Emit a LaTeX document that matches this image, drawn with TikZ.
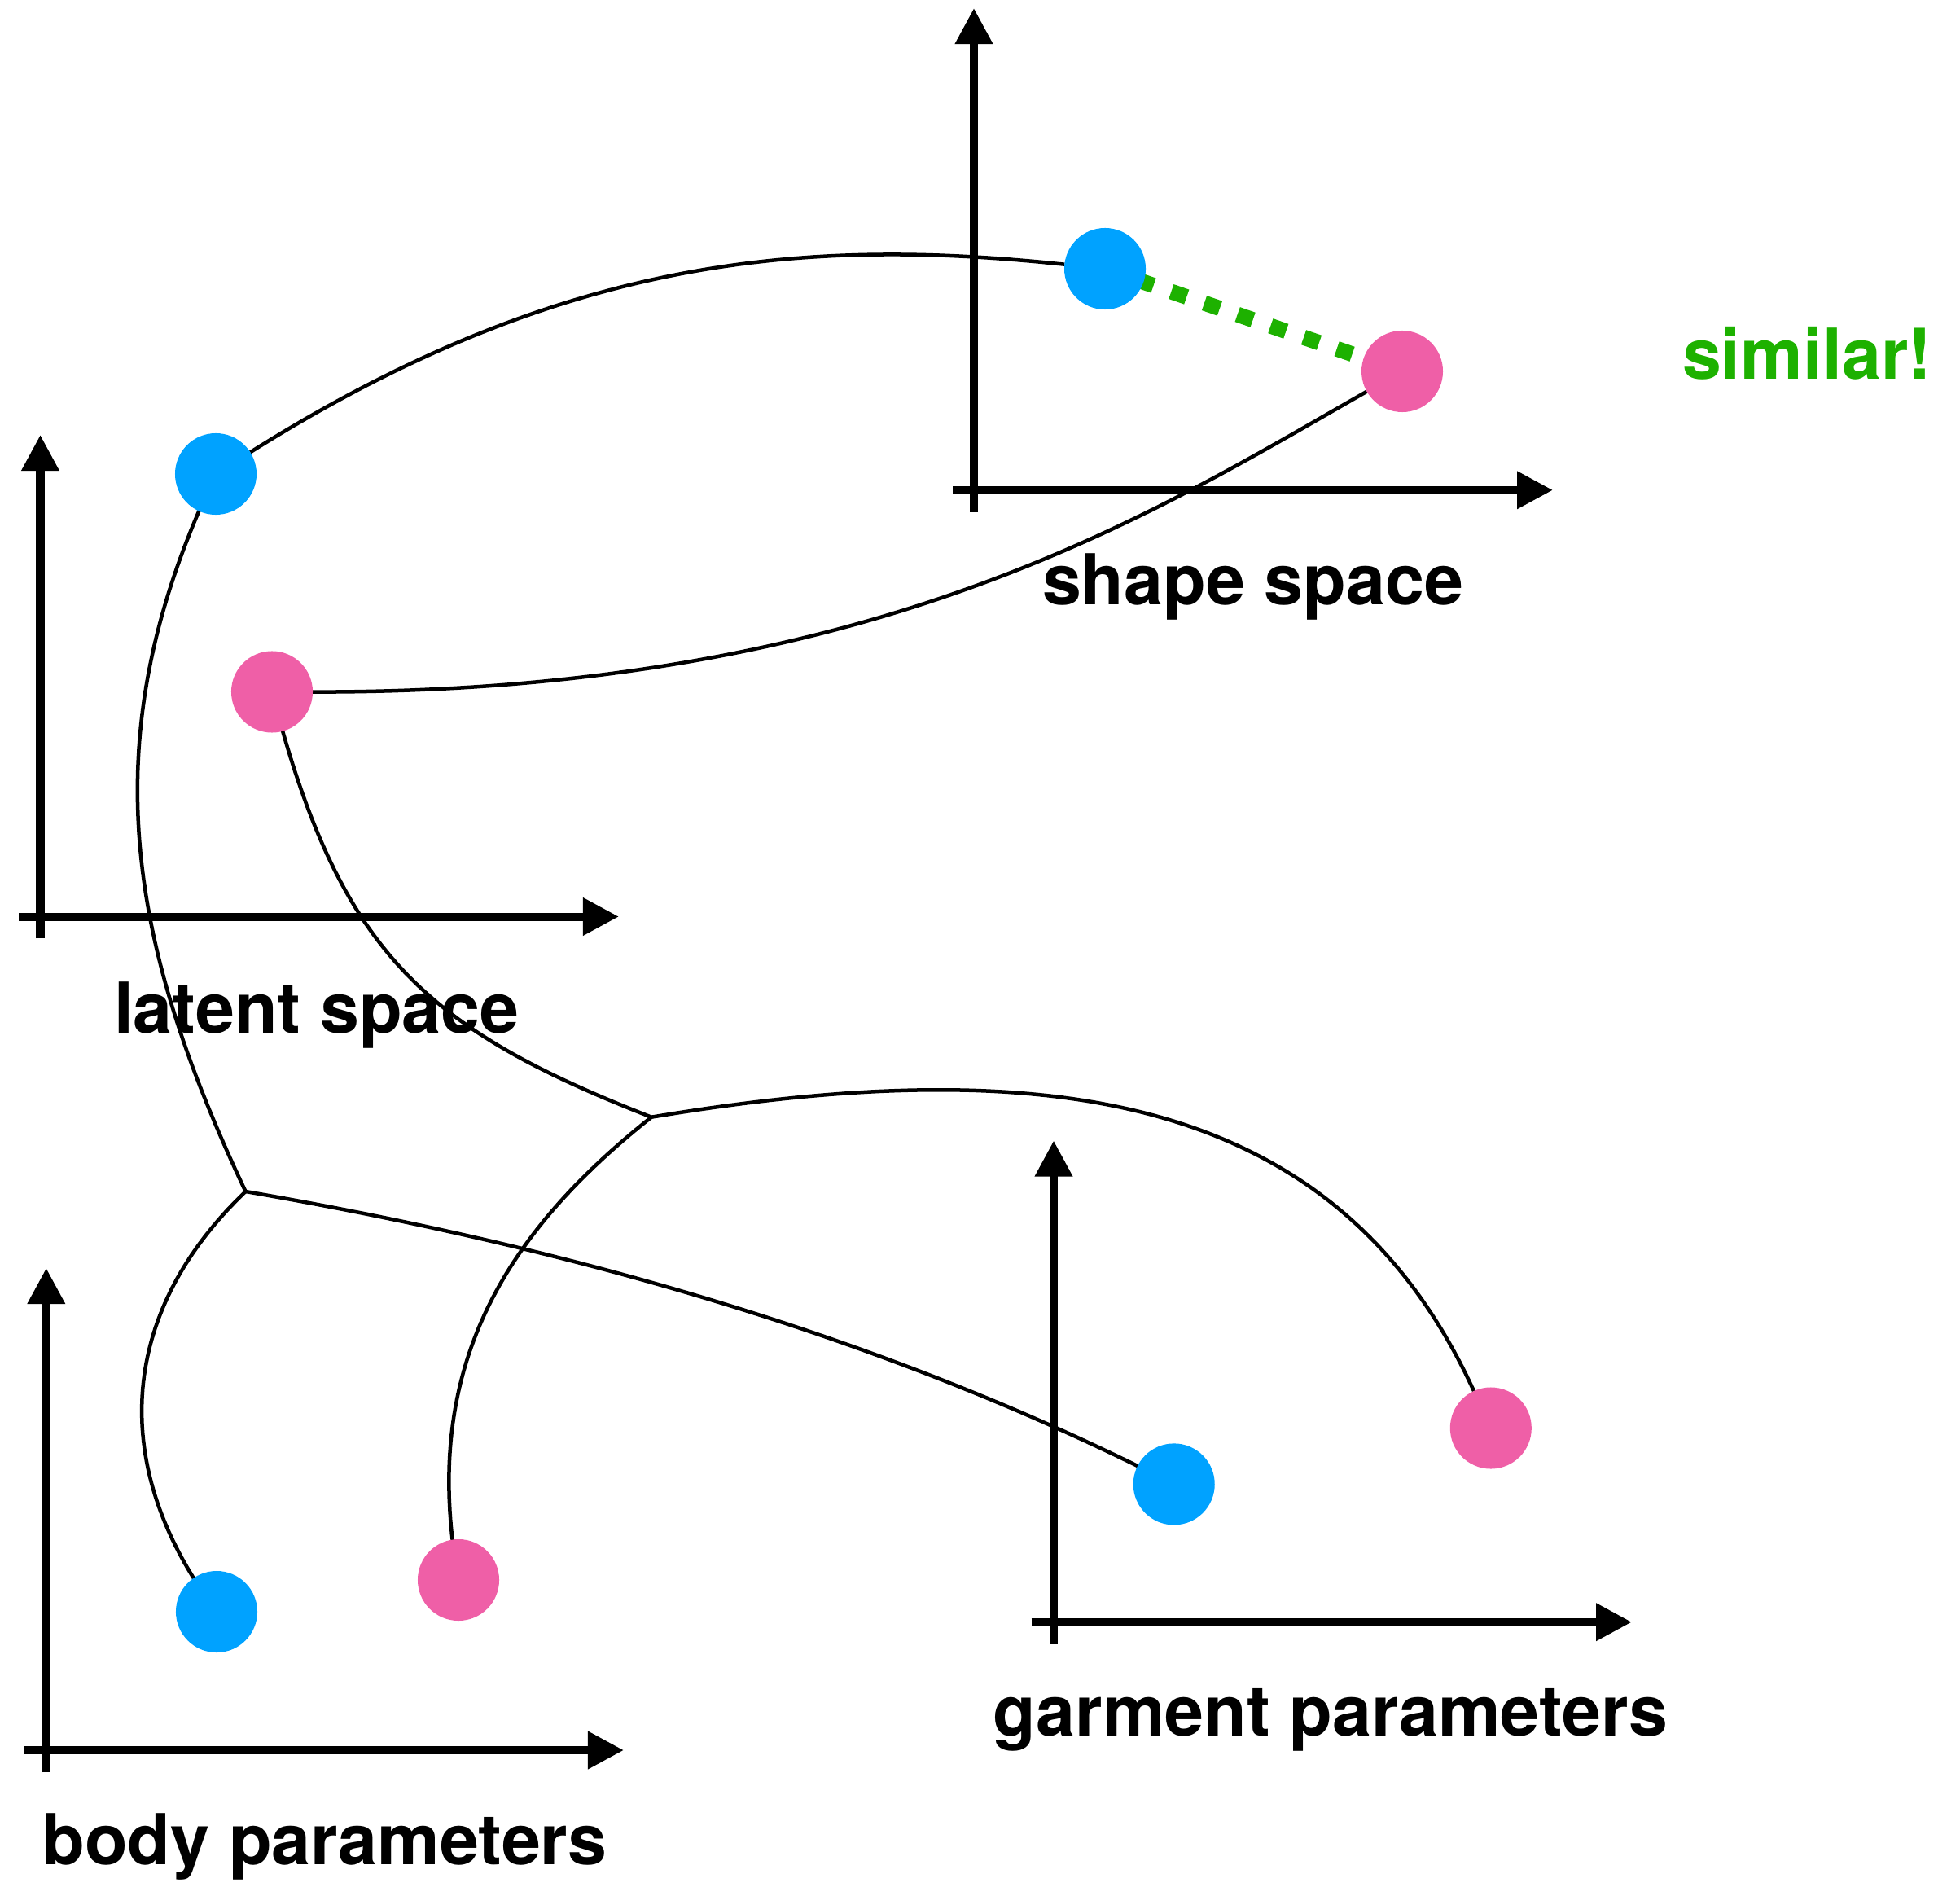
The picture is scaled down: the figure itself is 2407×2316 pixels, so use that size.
\documentclass[tikz,border=0pt]{standalone}
\usepackage{fontspec}
\setmainfont{TeX Gyre Heros}
\usetikzlibrary{arrows.meta}
\definecolor{dotblue}{HTML}{00A2FF}
\definecolor{dotpink}{HTML}{EF5FA7}
\definecolor{simgreen}{HTML}{1DB100}
\pgfdeclarelayer{bg}
\pgfsetlayers{bg,main}
\tikzset{
  axis/.style={line width=0.1cm, -{Triangle[length=0.44cm,width=0.44cm]}},
  bluedot/.style={circle, fill=dotblue, minimum size=1cm, inner sep=0pt, outer sep=0pt},
  pinkdot/.style={circle, fill=dotpink, minimum size=1cm, inner sep=0pt, outer sep=0pt},
  link/.style={line width=0.045cm, black},
  simline/.style={line width=0.19cm, simgreen, dash pattern=on 0.2cm off 0.23cm},
  lbl/.style={anchor=base west, inner sep=0pt, outer sep=0pt, font=\bfseries\fontsize{24.5pt}{30pt}\selectfont},
}
\begin{document}
\begin{tikzpicture}[x=0.01cm, y=-0.01cm]
\useasboundingbox (0,0) rectangle (2407,2316);

% axes: latent space
\draw[axis] (23,1125.5) -- (760,1125.5);
\draw[axis] (49.5,1152) -- (49.5,534);
% axes: shape space
\draw[axis] (1170,601.8) -- (1907,601.8);
\draw[axis] (1196,628.6) -- (1196,10);
% axes: body parameters
\draw[axis] (30,2149) -- (766,2149);
\draw[axis] (56.8,2176) -- (56.8,1557);
% axes: garment parameters
\draw[axis] (1266.7,1991.7) -- (2004,1991.7);
\draw[axis] (1294,2018.7) -- (1294,1400.5);

% labels
\node[lbl] (tlatent) at (140,1268) {latent space};
\node[lbl] (tshape) at (1280,742.7) {shape space};
\node[lbl, text=simgreen] (tsim) at (2066,465.7) {similar!};
\node[lbl] (tbody) at (51.5,2289.6) {body parameters};
\node[lbl] (tgarm) at (1219.6,2131) {garment parameters};

% dots
\node[bluedot] (lb) at (265,582) {};
\node[pinkdot] (lp) at (334,849.5) {};
\node[bluedot] (sb) at (1357,330) {};
\node[pinkdot] (sp) at (1722,456) {};
\node[bluedot] (bb) at (266,1979) {};
\node[pinkdot] (bp) at (563,1940) {};
\node[bluedot] (gb) at (1441.7,1822.4) {};
\node[pinkdot] (gp) at (1830.8,1753.5) {};

% junctions
\coordinate (j1) at (301.6,1463);
\coordinate (j2) at (800,1371.7);

\begin{pgfonlayer}{bg}
\draw[link] (lb) .. controls (689.6,314.5) and (989.6,291) .. (sb);
\draw[link] (lp) .. controls (1077,850.7) and (1418.7,628.4) .. (sp);
\draw[link] (j1) .. controls (152,1146.6) and (114,897.7) .. (lb.center);
\draw[link] (bb.center) .. controls (128,1795) and (150,1608) .. (j1);
\draw[link] (j1) .. controls (695.6,1531) and (1085.7,1640.4) .. (gb.center);
\draw[link] (lp.center) .. controls (416.5,1169) and (520.4,1262.4) .. (j2);
\draw[link] (bp.center) .. controls (518,1695) and (605,1526) .. (j2);
\draw[link] (j2) .. controls (1293,1289.2) and (1643.5,1344.2) .. (gp);
\draw[simline] (sb.center) -- (sp.center);
\end{pgfonlayer}
\end{tikzpicture}
\end{document}
